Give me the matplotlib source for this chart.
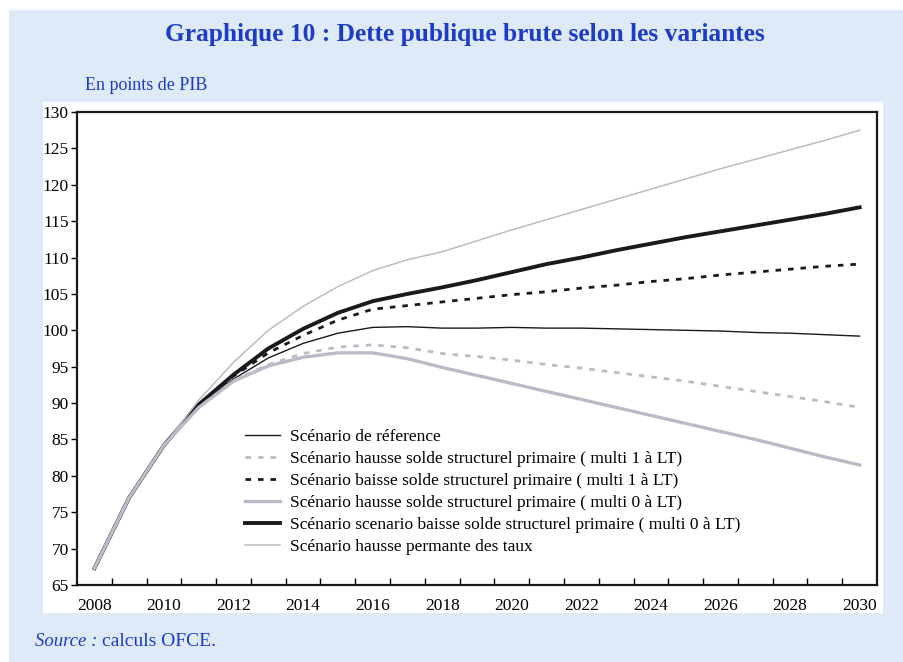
import matplotlib.pyplot as plt
from matplotlib.patches import Rectangle

years = list(range(2008, 2031))

reference = [67.3, 77.0, 84.2, 89.6, 93.3, 96.2, 98.2, 99.6, 100.4, 100.5, 100.3, 100.3, 100.4,
             100.3, 100.3, 100.2, 100.1, 100.0, 99.9, 99.7, 99.6, 99.4, 99.2]
hausse_m1 = [67.3, 77.0, 84.2, 89.4, 93.1, 95.3, 96.8, 97.7, 98.0, 97.6, 96.8, 96.4, 95.9,
             95.3, 94.8, 94.2, 93.6, 93.0, 92.3, 91.6, 90.9, 90.2, 89.4]
baisse_m1 = [67.3, 77.0, 84.2, 89.7, 93.7, 96.9, 99.3, 101.4, 102.9, 103.4, 103.9, 104.4, 104.9,
             105.3, 105.8, 106.2, 106.7, 107.1, 107.6, 108.0, 108.4, 108.8, 109.1]
hausse_m0 = [67.3, 77.0, 84.2, 89.4, 93.0, 95.1, 96.3, 96.9, 96.9, 96.1, 94.9, 93.8, 92.7,
             91.6, 90.5, 89.4, 88.3, 87.2, 86.1, 85.0, 83.8, 82.6, 81.5]
baisse_m0 = [67.3, 77.0, 84.2, 89.8, 93.9, 97.5, 100.2, 102.4, 104.0, 105.0, 105.9, 106.9, 108.0,
             109.1, 110.0, 111.0, 111.9, 112.8, 113.6, 114.4, 115.2, 116.0, 116.9]
taux = [67.3, 77.0, 84.2, 90.4, 95.6, 100.0, 103.3, 106.0, 108.2, 109.7, 110.8, 112.3, 113.8,
        115.2, 116.6, 118.0, 119.4, 120.8, 122.2, 123.5, 124.8, 126.1, 127.5]

labels = [
    "Scénario de réference",
    "Scénario hausse solde structurel primaire ( multi 1 à LT)",
    "Scénario baisse solde structurel primaire ( multi 1 à LT)",
    "Scénario hausse solde structurel primaire ( multi 0 à LT)",
    "Scénario scenario baisse solde structurel primaire ( multi 0 à LT)",
    "Scénario hausse permante des taux",
]

plt.rcParams['font.family'] = ['Liberation Serif', 'DejaVu Serif']

blue_bg = '#dfeaf8'
title_blue = '#1c3cc8'
light = '#b9bcc6'
dark = '#1a1a1a'

fig = plt.figure(figsize=(9.04, 6.62), dpi=100)
fig.patch.set_facecolor('white')
# blue frame and white panel behind the chart
fig.patches.append(Rectangle((9 / 904, 0), 1, 1 - 10 / 662, transform=fig.transFigure,
                             facecolor=blue_bg, edgecolor='none', zorder=-2))
fig.patches.append(Rectangle((43 / 904, 1 - 613 / 662), (883 - 43) / 904, (613 - 102) / 662,
                             transform=fig.transFigure, facecolor='white', edgecolor='none', zorder=-1))

ax = fig.add_axes([77 / 904, 1 - 585 / 662, 800 / 904, 473 / 662])

ax.plot(years, baisse_m0, color=dark, lw=2.8, label=labels[4], zorder=2)
ax.plot(years, reference, color=dark, lw=1.0, label=labels[0], zorder=3)
ax.plot(years, baisse_m1, color=dark, lw=2, ls=(0, (2, 2.5)), label=labels[2], zorder=3)
ax.plot(years, taux, color=light, lw=1.1, label=labels[5], zorder=3)
ax.plot(years, hausse_m1, color=light, lw=2, ls=(0, (2, 2.5)), label=labels[1], zorder=4)
ax.plot(years, hausse_m0, color=light, lw=2.4, label=labels[3], zorder=5)

ax.set_xlim(2007.5, 2030.5)
ax.set_ylim(65, 130)
ax.set_yticks(range(65, 131, 5))
ax.set_xticks(range(2008, 2031, 2))
ax.set_xticks([y + 0.5 for y in range(2008, 2030)], minor=True)
ax.tick_params(axis='x', which='major', length=0, pad=9, labelsize=12.5)
ax.tick_params(axis='x', which='minor', direction='in', length=5, width=1)
ax.tick_params(axis='y', direction='out', length=4, width=1, pad=2, labelsize=12.5)
for s in ax.spines.values():
    s.set_linewidth(1.6)
    s.set_color(dark)

handles, labs = ax.get_legend_handles_labels()
order = [labs.index(l) for l in labels]
ax.legend([handles[i] for i in order], [labs[i] for i in order],
          loc='upper left', bbox_to_anchor=(0.21, 0.33), frameon=False,
          fontsize=12.5, handlelength=2.0, handletextpad=0.6, labelspacing=0.34,
          borderpad=0, borderaxespad=0)

fig.text(0.514, 1 - 35 / 662, "Graphique 10 : Dette publique brute selon les variantes",
         ha='center', va='center', fontsize=18.3, fontweight='bold', color=title_blue)
fig.text(85 / 904, 1 - 86 / 662, "En points de PIB", ha='left', va='center',
         fontsize=13, color=title_blue)
fig.text(35 / 904, 1 - 641 / 662, "Source :", ha='left', va='center',
         fontsize=13.5, style='italic', color=title_blue)
fig.text(102 / 904, 1 - 641 / 662, "calculs OFCE.", ha='left', va='center',
         fontsize=14, color=title_blue)

fig.savefig('out.png', dpi=100, facecolor=fig.get_facecolor())
